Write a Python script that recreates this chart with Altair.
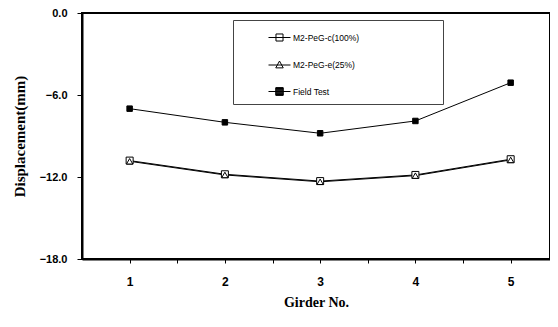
import altair as alt
import pandas as pd

girders = [1, 2, 3, 4, 5]
series_names = ["M2-PeG-c(100%)", "M2-PeG-e(25%)", "Field Test"]
c100 = [-10.8, -11.8, -12.3, -11.85, -10.7]
e25 = [-10.85, -11.85, -12.35, -11.9, -10.75]
field = [-7.0, -8.0, -8.8, -7.9, -5.1]

x_ticks = [1, 1.5, 2, 2.5, 3, 3.5, 4, 4.5, 5]
y_ticks = [0, -6, -12, -18]

rows = []
for name, vals in zip(series_names, [c100, e25, field]):
    for g, v in zip(girders, vals):
        rows.append({"girder": g, "disp": v, "series": name})
df = pd.DataFrame(rows)

x = alt.X(
    "girder:Q",
    scale=alt.Scale(domain=[0.5, 5.413], nice=False, zero=False),
    axis=alt.Axis(
        values=x_ticks,
        labelExpr="datum.value % 1 == 0 ? format(datum.value, 'd') : ''",
        title="Girder No.",
        titleFont="Liberation Serif",
        titleFontSize=14,
        titleFontWeight="bold",
        titlePadding=8,
        labelFont="Liberation Sans",
        labelFontSize=12,
        labelFontWeight="bold",
        labelPadding=13,
        tickSize=4,
        grid=False,
    ),
)
y = alt.Y(
    "disp:Q",
    scale=alt.Scale(domain=[-18, 0], nice=False, zero=False),
    axis=alt.Axis(
        values=y_ticks,
        format=".1f",
        title="Displacement(mm)",
        titleFont="Liberation Serif",
        titleFontSize=15,
        titleFontWeight="bold",
        titlePadding=12,
        labelFont="Liberation Sans",
        labelFontSize=11,
        labelFontWeight="bold",
        labelPadding=10,
        tickSize=5,
        grid=False,
    ),
)

base = alt.Chart(df)

lines = base.mark_line(color="black", strokeWidth=1).encode(
    x=x, y=y, detail="series:N"
)

points = base.mark_point(color="black", stroke="black", strokeWidth=1, opacity=1, fillOpacity=1).encode(
    x=x,
    y=y,
    shape=alt.Shape(
        "series:N",
        scale=alt.Scale(domain=series_names, range=["square", "triangle-up", "square"]),
        legend=None,
    ),
    fill=alt.Fill(
        "series:N",
        scale=alt.Scale(domain=series_names, range=["white", "white", "black"]),
        legend=None,
    ),
    size=alt.Size(
        "series:N",
        scale=alt.Scale(domain=series_names, range=[49, 30, 64]),
        legend=None,
    ),
)

sq = "M-1,0H1M-0.32,-0.32H0.32V0.32H-0.32Z"
tri = "M-1,0H1M0,-0.36L0.34,0.26H-0.34Z"
hatch = "".join("M-0.34,%.2fH0.34" % (-0.34 + 0.068 * i) for i in range(11))
fsq = "M-1,0H1M-0.34,-0.34H0.34V0.34H-0.34Z" + hatch

pad = "\u2800" * 11

leg = alt.Legend(
    orient="none",
    legendX=151,
    legendY=7,
    title=None,
    labelFont="Liberation Sans",
    labelFontSize=8.5,
    labelColor="black",
    labelOffset=2,
    labelExpr="datum.label + '" + pad + "'",
    symbolSize=484,
    symbolStrokeWidth=1,
    symbolStrokeColor="black",
    symbolOffset=29,
    strokeColor="#444",
    fillColor="white",
    padding=6,
    rowPadding=9.5,
)

legend_layer = base.transform_filter("false").mark_point(
    color="black", filled=False, strokeWidth=1, opacity=1
).encode(
    x=x,
    y=y,
    shape=alt.Shape(
        "series:N",
        scale=alt.Scale(domain=series_names, range=[sq, tri, fsq]),
        legend=leg,
    ),
)

chart = (
    alt.layer(lines, points, legend_layer)
    .resolve_scale(shape="independent")
    .properties(
        width=468,
        height=246,
        autosize=alt.AutoSizeParams(type="none"),
        padding={"left": 74, "top": 5, "right": 0, "bottom": 60},
        background="white",
    )
    .configure_view(stroke="black", strokeWidth=2)
    .configure_axis(domainColor="black", domainWidth=2, tickColor="black", tickWidth=1, labelColor="black", titleColor="black")
)

chart.save("out.html", embed_options={"renderer": "svg", "actions": False})
